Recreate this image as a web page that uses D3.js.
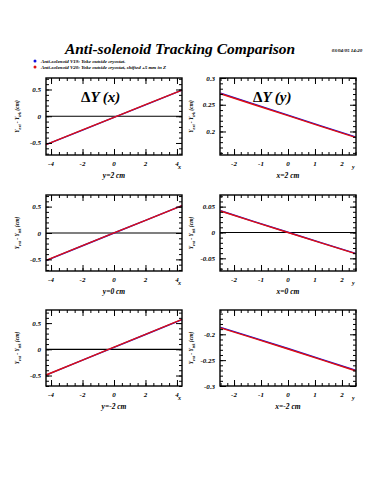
<!DOCTYPE html>
<html>
<head>
<meta charset="utf-8">
<script src="https://cdn.jsdelivr.net/npm/d3@7"></script>
<style>
  body { margin: 0; background: #fff; }
  svg { display: block; }
  text { font-family: "Liberation Serif", "DejaVu Serif", serif; font-style: italic; font-weight: bold; fill: #000; }
</style>
</head>
<body>
<svg id="chart" width="375" height="500"></svg>
<script>
const width = 375, height = 500;

// sample positions along the scanned coordinate
const xPos = [-4.32, -2, 0, 2, 4.32];
const yPos = [-2.5, -1.25, 0, 1.25, 2.5];

// dY(x) at y = 2, 0, -2 cm  (V19 / V20)
const dYx_y2_v19 = [-0.532, -0.258, -0.022, 0.214, 0.488];
const dYx_y2_v20 = [-0.530, -0.256, -0.020, 0.216, 0.490];
const dYx_y0_v19 = [-0.522, -0.242, 0.0, 0.238, 0.518];
const dYx_y0_v20 = [-0.520, -0.240, 0.002, 0.240, 0.520];
const dYx_ym2_v19 = [-0.492, -0.207, 0.038, 0.283, 0.568];
const dYx_ym2_v20 = [-0.490, -0.205, 0.040, 0.285, 0.570];

// dY(y) at x = 2, 0, -2 cm
const dYy_x2_v19 = [0.2715, 0.2510, 0.2305, 0.2100, 0.1900];
const dYy_x2_v20 = [0.2705, 0.2500, 0.2295, 0.2090, 0.1890];
const dYy_x0_v19 = [0.0420, 0.0210, 0.0005, -0.0200, -0.0405];
const dYy_x0_v20 = [0.0415, 0.0205, 0.0, -0.0205, -0.0410];
const dYy_xm2_v19 = [-0.1865, -0.2070, -0.2275, -0.2485, -0.2695];
const dYy_xm2_v20 = [-0.1875, -0.2080, -0.2285, -0.2495, -0.2705];

// axis ticks
const xTicksLeft = [-4, -2, 0, 2, 4];
const xTicksRight = [-2, -1, 0, 1, 2];
const yTicksLeft = [-0.5, 0, 0.5];
const yTicks_x2 = [0.2, 0.25, 0.3];
const yTicks_x0 = [-0.05, 0, 0.05];
const yTicks_xm2 = [-0.3, -0.25, -0.2];

const legendLabels = [
  "Anti-solenoid V19: Yoke outside cryostat.",
  "Anti-solenoid V20: Yoke outside cryostat, shifted +5 mm in Z"
];
const seriesColors = ["#1010e0", "#e01010"];

const colLeft = [46, 182], colRight = [220, 356];
const rows = [[78, 155], [195, 271], [310, 386]];

const fmt = d => String(d);

const panels = [
  { col: colLeft, row: rows[0], xDom: [-4.32, 4.32], yDom: [-0.725, 0.715], xs: xPos, series: [dYx_y2_v19, dYx_y2_v20],
    xt: xTicksLeft, xMinor: 0.5, yt: yTicksLeft, yMinor: 0.1, xLabel: "y=2 cm", axisName: "x", tag: "\u0394Y (x)" },
  { col: colRight, row: rows[0], xDom: [-2.52, 2.52], yDom: [0.156, 0.3], xs: yPos, series: [dYy_x2_v19, dYy_x2_v20],
    xt: xTicksRight, xMinor: 0.25, yt: yTicks_x2, yMinor: 0.01, xLabel: "x=2 cm", axisName: "y", tag: "\u0394Y (y)" },
  { col: colLeft, row: rows[1], xDom: [-4.32, 4.32], yDom: [-0.72, 0.72], xs: xPos, series: [dYx_y0_v19, dYx_y0_v20],
    xt: xTicksLeft, xMinor: 0.5, yt: yTicksLeft, yMinor: 0.1, xLabel: "y=0 cm", axisName: "x" },
  { col: colRight, row: rows[1], xDom: [-2.52, 2.52], yDom: [-0.0745, 0.0725], xs: yPos, series: [dYy_x0_v19, dYy_x0_v20],
    xt: xTicksRight, xMinor: 0.25, yt: yTicks_x0, yMinor: 0.01, xLabel: "x=0 cm", axisName: "y" },
  { col: colLeft, row: rows[2], xDom: [-4.32, 4.32], yDom: [-0.7, 0.75], xs: xPos, series: [dYx_ym2_v19, dYx_ym2_v20],
    xt: xTicksLeft, xMinor: 0.5, yt: yTicksLeft, yMinor: 0.1, xLabel: "y=-2 cm", axisName: "x" },
  { col: colRight, row: rows[2], xDom: [-2.52, 2.52], yDom: [-0.3, -0.153], xs: yPos, series: [dYy_xm2_v19, dYy_xm2_v20],
    xt: xTicksRight, xMinor: 0.25, yt: yTicks_xm2, yMinor: 0.01, xLabel: "x=-2 cm", axisName: "y" }
];

const svg = d3.select("#chart");

// title and date stamp
svg.append("text")
  .attr("x", 180).attr("y", 54)
  .attr("text-anchor", "middle")
  .attr("font-size", 15.5)
  .text("Anti-solenoid Tracking Comparison");

svg.append("text")
  .attr("x", 347).attr("y", 52)
  .attr("text-anchor", "middle")
  .attr("font-size", 5)
  .text("03/04/05   14:20");

// legend
legendLabels.forEach((lab, i) => {
  svg.append("circle")
    .attr("cx", 35).attr("cy", 61 + i * 6)
    .attr("r", 1.5)
    .attr("fill", seriesColors[i]);
  svg.append("text")
    .attr("x", 41).attr("y", 63 + i * 6)
    .attr("font-size", 5)
    .text(lab);
});

// helper: evenly spaced minor tick values inside a domain
const minorTicks = (dom, step) => {
  const lo = Math.ceil(dom[0] / step - 1e-6), hi = Math.floor(dom[1] / step + 1e-6);
  return d3.range(lo, hi + 1).map(k => +(k * step).toFixed(6));
};

panels.forEach(p => {
  const x = d3.scaleLinear().domain(p.xDom).range(p.col);
  const y = d3.scaleLinear().domain(p.yDom).range([p.row[1], p.row[0]]);
  const g = svg.append("g");
  const [x0, x1] = p.col, [y0, y1] = p.row;

  // zero line
  if (p.yDom[0] < 0 && p.yDom[1] > 0) {
    g.append("line")
      .attr("x1", x0).attr("x2", x1)
      .attr("y1", y(0)).attr("y2", y(0))
      .attr("stroke", "#000").attr("stroke-width", 1.2);
  }

  // data lines
  const line = d3.line().x((d, i) => x(p.xs[i])).y(d => y(d));
  p.series.forEach((s, i) => {
    g.append("path")
      .datum(s)
      .attr("d", line)
      .attr("fill", "none")
      .attr("stroke", seriesColors[i])
      .attr("stroke-width", 1.4);
  });

  // minor and major ticks on all four sides, pointing inward
  const xm = minorTicks(p.xDom, p.xMinor), ym = minorTicks(p.yDom, p.yMinor);
  const axes = [
    [d3.axisBottom(x).tickValues(xm).tickSize(-3), `translate(0,${y1})`],
    [d3.axisTop(x).tickValues(xm).tickSize(-3), `translate(0,${y0})`],
    [d3.axisLeft(y).tickValues(ym).tickSize(-3), `translate(${x0},0)`],
    [d3.axisRight(y).tickValues(ym).tickSize(-3), `translate(${x1},0)`],
    [d3.axisBottom(x).tickValues(p.xt).tickSize(-6), `translate(0,${y1})`],
    [d3.axisTop(x).tickValues(p.xt).tickSize(-6), `translate(0,${y0})`],
    [d3.axisLeft(y).tickValues(p.yt).tickSize(-6), `translate(${x0},0)`],
    [d3.axisRight(y).tickValues(p.yt).tickSize(-6), `translate(${x1},0)`]
  ];
  axes.forEach(([ax, tr]) => {
    const a = g.append("g").attr("transform", tr).call(ax.tickFormat(""));
    a.select(".domain").remove();
    a.selectAll("line").attr("stroke", "#000").attr("stroke-width", 1);
  });

  // tick labels
  g.selectAll(".xl").data(p.xt).enter().append("text")
    .attr("x", d => x(d)).attr("y", y1 + 11)
    .attr("text-anchor", "middle").attr("font-size", 7)
    .text(fmt);
  g.selectAll(".yl").data(p.yt).enter().append("text")
    .attr("x", x0 - 5).attr("y", d => y(d) + 2.5)
    .attr("text-anchor", "end").attr("font-size", 7)
    .text(fmt);

  // frame
  g.append("rect")
    .attr("x", x0).attr("y", y0)
    .attr("width", x1 - x0).attr("height", y1 - y0)
    .attr("fill", "none").attr("stroke", "#000").attr("stroke-width", 1.4);

  // axis titles
  g.append("text")
    .attr("x", (x0 + x1) / 2).attr("y", y1 + 23)
    .attr("text-anchor", "middle").attr("font-size", 7.5)
    .text(p.xLabel);
  g.append("text")
    .attr("x", x1 - 4).attr("y", y1 + 14)
    .attr("font-size", 6)
    .text(p.axisName);

  const yl = g.append("text")
    .attr("transform", `translate(${x0 - 27},${(y0 + y1) / 2}) rotate(-90)`)
    .attr("text-anchor", "middle").attr("font-size", 5.5);
  yl.append("tspan").text("Y");
  yl.append("tspan").attr("font-size", 4).attr("dy", 1.5).text("ext");
  yl.append("tspan").attr("dy", -1.5).text(" - Y");
  yl.append("tspan").attr("font-size", 4).attr("dy", 1.5).text("trk");
  yl.append("tspan").attr("dy", -1.5).text(" (cm)");

  if (p.tag) {
    const t = g.append("text")
      .attr("x", x0 + (p.axisName === "x" ? 35 : 33)).attr("y", y0 + 24)
      .attr("font-size", 15);
    t.append("tspan").attr("font-style", "normal").text(p.tag.slice(0, 1));
    t.append("tspan").text(p.tag.slice(1));
  }
});
</script>
</body>
</html>
